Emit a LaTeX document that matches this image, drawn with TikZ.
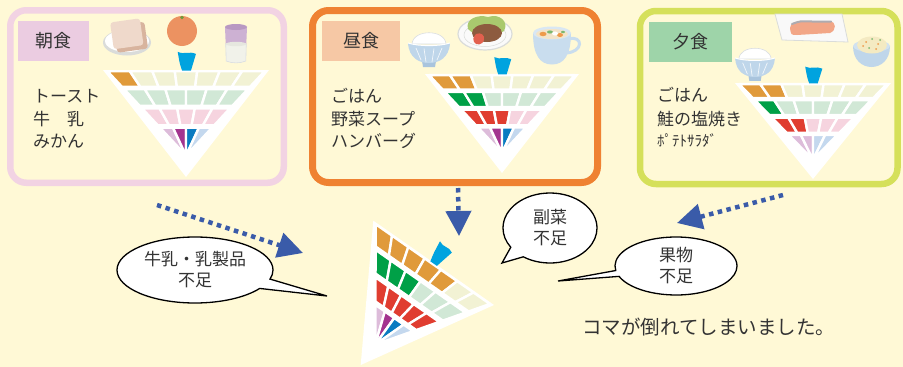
\documentclass[tikz,border=0pt]{standalone}
\usepackage{fontspec}
\setmainfont{Noto Sans CJK JP}
\usetikzlibrary{arrows.meta,shapes.callouts}

\definecolor{cream}{HTML}{FFF9D6}
\definecolor{ink}{HTML}{333333}
\definecolor{pinkframe}{HTML}{F2D3E3}
\definecolor{orangeframe}{HTML}{EF8232}
\definecolor{limeframe}{HTML}{D5E05A}
\definecolor{pinktag}{HTML}{EBCCE1}
\definecolor{peachtag}{HTML}{F6C8A5}
\definecolor{greentag}{HTML}{9ED4A9}
\definecolor{grainon}{HTML}{E09A3B}
\definecolor{grainoff}{HTML}{F2F2D4}
\definecolor{vegon}{HTML}{00A047}
\definecolor{vegoff}{HTML}{D1E8D6}
\definecolor{mainon}{HTML}{E03D30}
\definecolor{mainoff}{HTML}{F6D4DF}
\definecolor{milkon}{HTML}{A3348F}
\definecolor{milkoff}{HTML}{DDBCDA}
\definecolor{fruiton}{HTML}{0A7BC1}
\definecolor{fruitoff}{HTML}{C4D8EE}
\definecolor{handleblue}{HTML}{00A3DF}
\definecolor{arrowblue}{HTML}{3A5BA9}
% food colours
\definecolor{plategray}{HTML}{DADCDA}
\definecolor{toastface}{HTML}{EFD9CB}
\definecolor{toastcrust}{HTML}{D8B49E}
\definecolor{orangefruit}{HTML}{EC9261}
\definecolor{stemgreen}{HTML}{6E9A3A}
\definecolor{glasslav}{HTML}{CDB1D3}
\definecolor{glassrim}{HTML}{B898C2}
\definecolor{milkwhite}{HTML}{F1F2EA}
\definecolor{bowlblue}{HTML}{BFD6EA}
\definecolor{bowldark}{HTML}{A9C4DD}
\definecolor{ricegray}{HTML}{D9DDE2}
\definecolor{lettuce}{HTML}{A9C96E}
\definecolor{patty}{HTML}{8D5B3F}
\definecolor{ketchup}{HTML}{E2604E}
\definecolor{cupblue}{HTML}{C9DDEE}
\definecolor{broth}{HTML}{F3E4C8}
\definecolor{carrot}{HTML}{EE9A4A}
\definecolor{herb}{HTML}{7CB870}
\definecolor{salmon}{HTML}{F2A687}
\definecolor{salmonskin}{HTML}{AEABB0}
\definecolor{potato}{HTML}{F4EAC2}

% one row of cells of the spinning top (canonical frame: top edge y=0 from x=0 to 1, tip at (0.5,1))
% #1 cells, #2 upper edge, #3 lower edge, #4 filled cells, #5 filled colour, #6 empty colour
\newcommand\komarow[6]{%
  \foreach \k in {1,...,#1}{%
    \pgfmathsetmacro\xa{0.5+(2*(\k-1)/#1-1)*0.6*(0.8-#2)}%
    \pgfmathsetmacro\xb{0.5+(2*\k/#1-1)*0.6*(0.8-#2)}%
    \pgfmathsetmacro\xc{0.5+(2*\k/#1-1)*0.6*(0.8-#3)}%
    \pgfmathsetmacro\xd{0.5+(2*(\k-1)/#1-1)*0.6*(0.8-#3)}%
    \ifnum\k>#4\relax\def\cellcol{#6}\else\def\cellcol{#5}\fi
    \filldraw[fill=\cellcol, draw=white, line width=2.4pt, line join=round]
      (\xa,#2) -- (\xb,#2) -- (\xc,#3) -- (\xd,#3) -- cycle;
  }}
% the whole top: grain, vegetable and main dish counts, then the four colours of the lowest fan
\newcommand\komabody[7]{%
  \fill[white] (0,0) -- (1,0) -- (0.5,1) -- cycle;
  \komarow{7}{0.012}{0.158}{#1}{grainon}{grainoff}
  \komarow{6}{0.18}{0.335}{#2}{vegon}{vegoff}
  \komarow{5}{0.36}{0.518}{#3}{mainon}{mainoff}
  \foreach \c [count=\k] in {#4,#5,#6,#7}{%
    \pgfmathsetmacro\xa{0.5+(2*(\k-1)/4-1)*0.6*0.26}%
    \pgfmathsetmacro\xb{0.5+(2*\k/4-1)*0.6*0.26}%
    \filldraw[fill=\c, draw=white, line width=2.4pt, line join=round]
      (\xa,0.54) -- (\xb,0.54) -- (0.5,0.8) -- cycle;
  }
  \fill[handleblue] (0.476,0.005) .. controls (0.462,-0.06) .. (0.45,-0.17)
    .. controls (0.49,-0.14) and (0.52,-0.18) .. (0.56,-0.15)
    .. controls (0.545,-0.08) .. (0.53,0.005) -- cycle;
}
% rice bowl, origin at the rim centre
\newcommand\ricebowl[3]{%
  \begin{scope}[shift={(#1,#2)}, scale=#3]
    \filldraw[fill=white, draw=ricegray, line width=0.6pt]
      (-17,1) .. controls (-16,-14) and (16,-14) .. (17,1) -- cycle;
    \fill[bowldark] (-7,18) -- (7,18) -- (6,24) -- (-6,24) -- cycle;
    \fill[bowlblue] (-21,0) .. controls (-20,15) and (-10,20) .. (0,20)
      .. controls (10,20) and (20,15) .. (21,0)
      .. controls (10,3.5) and (-10,3.5) .. cycle;
    \draw[white, line width=0.7pt, opacity=0.8]
      (-13,5) -- (-8,17) (-5,5.5) -- (-3,19) (5,5.5) -- (3,19) (13,5) -- (8,17);
    \draw[white, line width=1pt] (-21,0) .. controls (-10,3.5) and (10,3.5) .. (21,0);
  \end{scope}}

\begin{document}
\begin{tikzpicture}[x=1pt, y=-1pt,
  panel/.style={draw, line width=6.5pt, rounded corners=16pt, inner sep=0pt},
  tag/.style={inner sep=0pt, minimum height=40pt, text=ink, font=\fontsize{18}{20}\selectfont},
  menu/.style={anchor=base west, inner sep=0pt, text=ink, font=\fontsize{17}{20}\selectfont},
  dotarrow/.style={draw=arrowblue, line width=4.5pt, dash pattern=on 4.5pt off 4.5pt,
    -{Triangle[length=25pt, width=25pt]}},
  bubble/.style={ellipse callout, draw=black, fill=white, line width=1.3pt, inner sep=0pt,
    align=center, text=ink, callout pointer arc=18,
    font=\fontsize{17}{21}\selectfont}]

\useasboundingbox (0,0) rectangle (903,367);
\fill[cream] (0,0) rectangle (903,367);

% meal panels
\node[panel, draw=pinkframe, minimum width=273.5pt, minimum height=172.5pt] (breakfast) at (147,96.5) {};
\node[panel, draw=orangeframe, line width=7pt, minimum width=285pt, minimum height=172pt] (lunch) at (455,96.5) {};
\node[panel, draw=limeframe, minimum width=257.5pt, minimum height=173pt] (dinner) at (768.75,97.5) {};

\node[tag, fill=pinktag, minimum width=71pt] (tagA) at (53.5,41) {朝食};
\node[tag, fill=peachtag, minimum width=78pt] (tagB) at (361,41) {昼食};
\node[tag, fill=greentag, minimum width=83pt] (tagC) at (690.5,41.5) {夕食};

% breakfast: toast, orange, milk
\fill[plategray] (127,42.5) ellipse [x radius=24pt, y radius=13pt];
\fill[white] (127,41) ellipse [x radius=22pt, y radius=11pt];
\begin{scope}[shift={(129,35)}, rotate=8]
  \fill[toastcrust, rounded corners=3pt] (-14,-11) rectangle (17,16);
  \fill[toastface, rounded corners=3pt] (-17,-15) rectangle (13,12);
\end{scope}
\fill[orangefruit] (182,31) circle [radius=15pt];
\fill[stemgreen] (182,17.5) circle [radius=1.8pt];
\fill[glasslav] (225,27) -- (247,27) -- (246.3,44) -- (225.7,44) -- cycle;
\filldraw[fill=milkwhite, draw=ricegray, line width=0.6pt] (225.7,44) -- (246.3,44) -- (245.8,61)
  .. controls (240,63.5) and (232,63.5) .. (226.2,61) -- cycle;
\fill[glassrim] (236,27) ellipse [x radius=11pt, y radius=3pt];
\fill[milkwhite!90!gray] (236,44) ellipse [x radius=10.3pt, y radius=2.2pt];

% lunch: rice, hamburger steak, soup
\ricebowl{429}{43}{1}
\filldraw[fill=white!96!gray, draw=plategray, line width=1.2pt] (485,34) ellipse [x radius=27pt, y radius=16pt];
\draw[plategray, line width=0.5pt] (485,35) ellipse [x radius=21pt, y radius=11.5pt];
\fill[lettuce] (468,29) .. controls (465,19) and (478,14) .. (488,17)
  .. controls (500,13) and (509,22) .. (504,31) .. controls (498,36) and (474,37) .. cycle;
\fill[patty] (487,33) ellipse [x radius=15pt, y radius=9pt];
\fill[ketchup] (476,34) .. controls (481,32) and (485,35) .. (484,40)
  .. controls (483,45) and (476,46) .. (474,42) .. controls (473,38) .. cycle;
\draw[cupblue, line width=3pt] (569,39) .. controls (583,35) and (584,52) .. (566,53);
\fill[cupblue] (533,33) .. controls (533,55) and (540,64.5) .. (552,64.5)
  .. controls (564,64.5) and (571,55) .. (571,33) -- cycle;
\fill[cupblue!70!white] (552,33) ellipse [x radius=19pt, y radius=6.5pt];
\fill[broth] (552,34) ellipse [x radius=16pt, y radius=5pt];
\fill[carrot] (543,34) ellipse [x radius=3.5pt, y radius=2.2pt];
\fill[carrot] (560,35) ellipse [x radius=3pt, y radius=2pt];
\fill[herb] (550,32) ellipse [x radius=3pt, y radius=1.6pt];
\fill[white] (555,33.5) ellipse [x radius=3pt, y radius=2pt];
\fill[herb] (563,32) ellipse [x radius=2pt, y radius=1.2pt];

% dinner: salmon, rice, potato salad
\filldraw[fill=white!95!gray, draw=plategray, line width=0.8pt] (775,14) -- (842,14) -- (848,42) -- (782,40) -- cycle;
\fill[salmon] (790,28) .. controls (789,22) and (800,21) .. (812,21) -- (830,21)
  .. controls (836,22) and (837,30) .. (830,33) -- (797,35) .. controls (791,35) .. cycle;
\draw[salmonskin, line width=2pt, line cap=round] (792,24) .. controls (800,21) .. (812,21.5) -- (831,21.5);
\ricebowl{755}{58}{0.95}
\fill[bowlblue] (853,46) .. controls (853,60) and (862,67) .. (871.5,67)
  .. controls (881,67) and (890,60) .. (890,46) -- cycle;
\fill[bowlblue!70!white] (871.5,46) ellipse [x radius=18.5pt, y radius=6pt];
\fill[potato] (872,45) ellipse [x radius=15pt, y radius=8.5pt];
\foreach \p/\c in {{(866,42)}/carrot,{(872,39)}/herb,{(878,44)}/carrot,{(869,48)}/herb,{(876,49)}/carrot,{(863,46)}/carrot,{(880,40)}/herb}
  \fill[\c] \p circle [radius=1pt];

% the three tops of the meals
\begin{scope}[shift={(103,70)}, x={(166pt,0pt)}, y={(0pt,-107pt)}]
  \komabody{1}{0}{0}{milkoff}{milkon}{fruiton}{fruitoff}
\end{scope}
\begin{scope}[shift={(425,74)}, x={(154pt,0pt)}, y={(0pt,-99pt)}]
  \komabody{2}{2}{3}{milkoff}{milkon}{fruiton}{fruitoff}
\end{scope}
\begin{scope}[shift={(735,83)}, x={(156pt,0pt)}, y={(0pt,-96pt)}]
  \komabody{2}{1}{2}{milkoff}{milkoff}{fruitoff}{fruitoff}
\end{scope}

% menus
\node[menu] (menuA1) at (33,102.5) {トースト};
\node[menu] (menuA2) at (33,125.5) {牛　乳};
\node[menu] (menuA3) at (33,147.5) {みかん};
\node[menu] (menuB1) at (331,102.5) {ごはん};
\node[menu] (menuB2) at (331,125.5) {野菜スープ};
\node[menu] (menuB3) at (331,147.5) {ハンバーグ};
\node[menu] (menuC1) at (657,101.5) {ごはん};
\node[menu] (menuC2) at (657,125.5) {鮭の塩焼き};
\node[menu, font=\fontsize{15}{16}\selectfont] (menuC3) at (657,146) {ﾎﾟﾃﾄｻﾗﾀﾞ};

% the fallen top of the whole day
\begin{scope}[shift={(373.3,220.7)}, x={(120.7pt,-84.3pt)}, y={(-72.95pt,-102.15pt)}]
  \komabody{5}{3}{5}{milkoff}{milkon}{fruiton}{fruitoff}
\end{scope}

% dotted arrows
\coordinate (fromA) at (157,205);
\coordinate (toA) at (303,253);
\coordinate (fromB) at (458,188);
\coordinate (toB) at (459,236);
\coordinate (fromC) at (783,195);
\coordinate (toC) at (677,223);
\draw[dotarrow] (fromA) -- (toA);
\draw[dotarrow] (fromB) -- (toB);
\draw[dotarrow] (fromC) -- (toC);

% speech bubbles
\node[bubble, minimum width=156pt, minimum height=66pt, callout absolute pointer={(327,296)}] (needMilk) at (195,270) {牛乳・乳製品\\不足};
\node[bubble, minimum width=94pt, minimum height=70pt, callout pointer arc=22, callout absolute pointer={(502,263)}] (needVeg) at (550,228) {副菜\\不足};
\node[bubble, minimum width=122pt, minimum height=58pt, callout pointer arc=12, callout absolute pointer={(558,281)}] (needFruit) at (676,266) {果物\\不足};

\node[anchor=base west, inner sep=0pt, text=ink, font=\fontsize{19.5}{22}\selectfont] (caption) at (582,334.5) {コマが倒れてしまいました。};
\end{tikzpicture}
\end{document}
